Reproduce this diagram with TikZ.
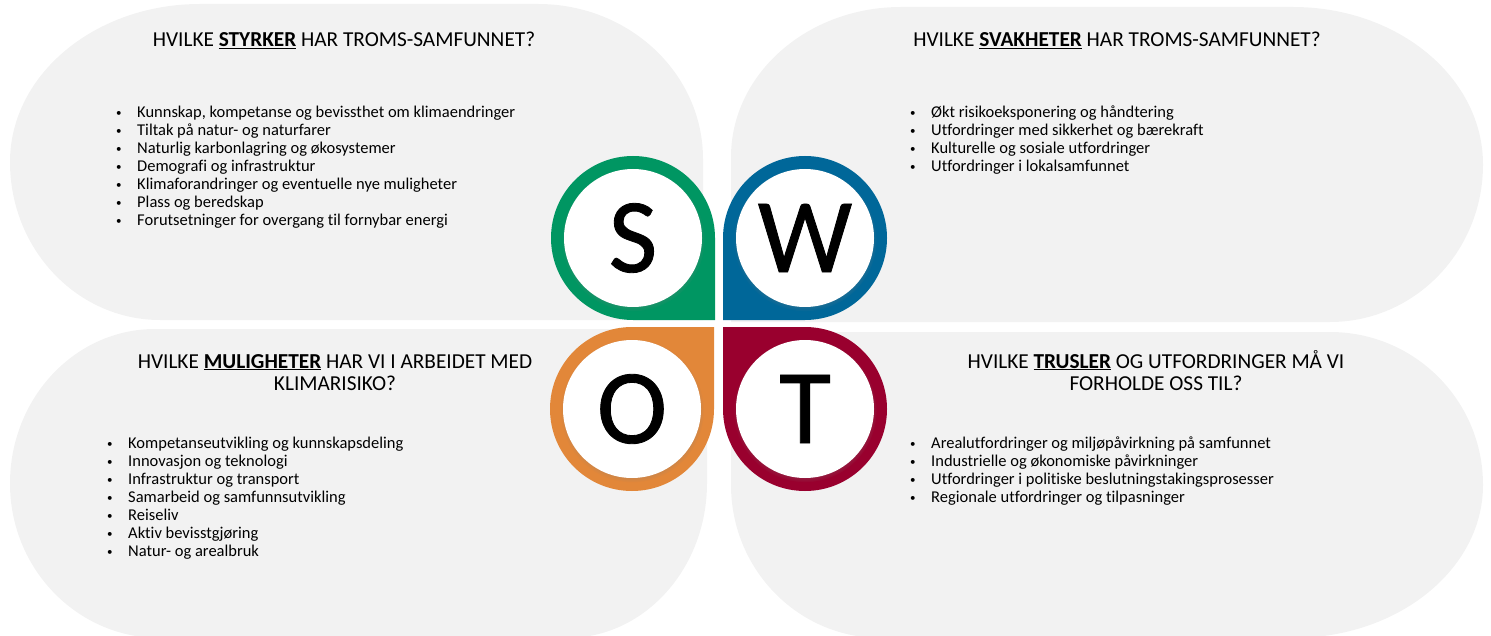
\documentclass[tikz,border=0pt]{standalone}
\usepackage{fontspec}
\setmainfont{Carlito}[Ligatures={NoCommon}]
\newfontfamily\swotfont{Carlito}[FakeBold=0.8]
\usepackage{tikz}
\usetikzlibrary{positioning,shadows}
\definecolor{swotgreen}{RGB}{0,150,98}
\definecolor{swotblue}{RGB}{0,103,153}
\definecolor{swotorange}{RGB}{226,135,57}
\definecolor{swotred}{RGB}{153,0,46}
\newcommand{\bul}{\makebox[21pt][l]{\raisebox{1pt}{\fontsize{11}{11}\selectfont\textbullet}}}

\begin{document}
\begin{tikzpicture}[x=1pt,y=-1pt,
  blob/.style={fill=black!5},
  letter/.style={circle,fill=white,minimum size=138,inner sep=0,
    font=\swotfont\fontsize{106}{106}\selectfont,
    circular drop shadow={shadow xshift=0pt,shadow yshift=-1.5pt,shadow scale=1.04,opacity=.45}},
  head/.style={anchor=base,inner sep=0,font=\fontsize{21.3}{22}\selectfont},
  list/.style={anchor=base west,inner sep=0,font=\fontsize{16.5}{18}\selectfont}]
\useasboundingbox (0,0) rectangle (1491,636);
\clip (0,0) rectangle (1491,636);
\fill[blob] (200,4) -- (538,4) arc[start angle=-90,end angle=0,x radius=165,y radius=155] -- (703,320) -- (160,320) arc[start angle=90,end angle=180,x radius=150,y radius=158] arc[start angle=180,end angle=270,x radius=190,y radius=158] -- cycle;
\fill[blob] (731,322) -- (731,157) arc[start angle=180,end angle=270,x radius=170,y radius=150] -- (1293,7) arc[start angle=-90,end angle=0,x radius=190,y radius=157.5] arc[start angle=0,end angle=90,x radius=153,y radius=157.5] -- cycle;
\fill[blob] (707,329) -- (707,483) arc[start angle=0,end angle=90,x radius=140,y radius=155] -- (160,638) arc[start angle=90,end angle=180,x radius=150,y radius=154.5] arc[start angle=180,end angle=270,x radius=145,y radius=154.5] -- cycle;
\fill[blob] (731,332) -- (1330,332) arc[start angle=-90,end angle=0,x radius=153,y radius=153] arc[start angle=0,end angle=90,x radius=190,y radius=153] -- (881,638) arc[start angle=90,end angle=180,x radius=150,y radius=153] -- cycle;
\fill[swotgreen] (715,320) -- (633,320) arc[start angle=90,end angle=360,radius=82] -- cycle;
\fill[swotblue] (723,320) -- (723,238) arc[start angle=180,end angle=450,radius=82] -- cycle;
\fill[swotorange] (714,327) -- (714,409) arc[start angle=0,end angle=270,radius=82] -- cycle;
\fill[swotred] (723,327) -- (805,327) arc[start angle=-90,end angle=180,radius=82] -- cycle;
\node[letter] (s) at (633,238) {S};
\node[letter] (w) at (805,238) {W};
\node[letter] (o) at (632,409) {O};
\node[letter] (t) at (805,409) {T};
\node[head] (shead) at (344,47) {HVILKE \underline{\textbf{STYRKER}} HAR TROMS-SAMFUNNET?};
\node[head] (whead) at (1117,47) {HVILKE \underline{\textbf{SVAKHETER}} HAR TROMS-SAMFUNNET?};
\node[head] (ohead) at (335,368) {\begin{tabular}[t]{@{}c@{}}HVILKE \underline{\textbf{MULIGHETER}} HAR VI I ARBEIDET MED\\KLIMARISIKO?\end{tabular}};
\node[head] (thead) at (1156,368) {\begin{tabular}[t]{@{}c@{}}HVILKE \underline{\textbf{TRUSLER}} OG UTFORDRINGER MÅ VI\\FORHOLDE OSS TIL?\end{tabular}};
\node[list] (slist) at (116,118) {\begin{tabular}[t]{@{}l@{}}
\bul Kunnskap, kompetanse og bevissthet om klimaendringer\\
\bul Tiltak på natur- og naturfarer\\
\bul Naturlig karbonlagring og økosystemer\\
\bul Demografi og infrastruktur\\
\bul Klimaforandringer og eventuelle nye muligheter\\
\bul Plass og beredskap\\
\bul Forutsetninger for overgang til fornybar energi
\end{tabular}};
\node[list] (wlist) at (910,118) {\begin{tabular}[t]{@{}l@{}}
\bul Økt risikoeksponering og håndtering\\
\bul Utfordringer med sikkerhet og bærekraft\\
\bul Kulturelle og sosiale utfordringer\\
\bul Utfordringer i lokalsamfunnet
\end{tabular}};
\node[list] (olist) at (107,448) {\begin{tabular}[t]{@{}l@{}}
\bul Kompetanseutvikling og kunnskapsdeling\\
\bul Innovasjon og teknologi\\
\bul Infrastruktur og transport\\
\bul Samarbeid og samfunnsutvikling\\
\bul Reiseliv\\
\bul Aktiv bevisstgjøring\\
\bul Natur- og arealbruk
\end{tabular}};
\node[list] (tlist) at (910,448) {\begin{tabular}[t]{@{}l@{}}
\bul Arealutfordringer og miljøpåvirkning på samfunnet\\
\bul Industrielle og økonomiske påvirkninger\\
\bul Utfordringer i politiske beslutningstakingsprosesser\\
\bul Regionale utfordringer og tilpasninger
\end{tabular}};
\end{tikzpicture}
\end{document}
